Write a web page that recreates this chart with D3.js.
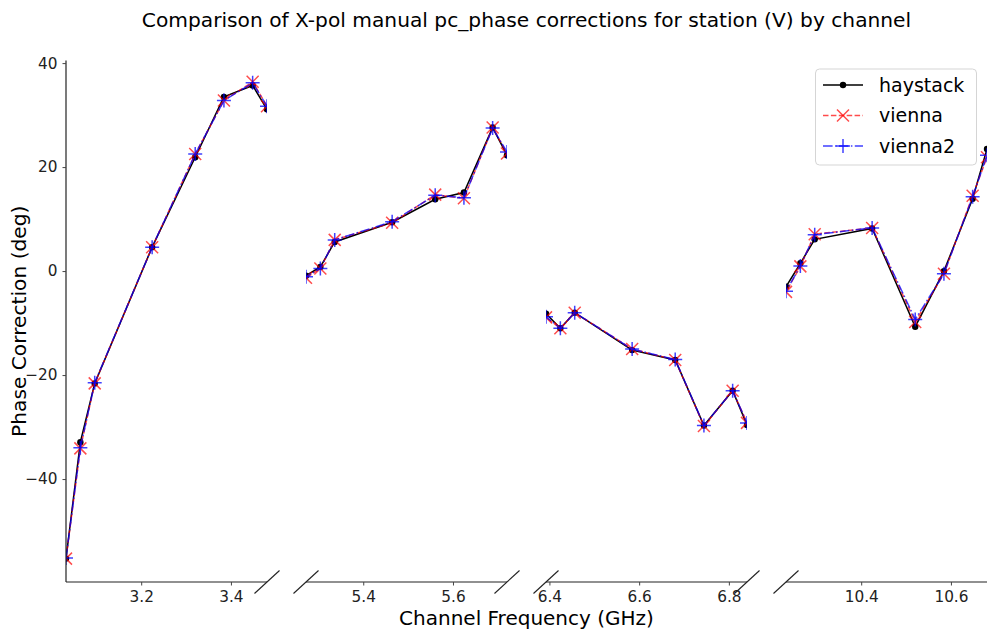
<!DOCTYPE html>
<html><head><meta charset="utf-8">
<script src="https://cdn.jsdelivr.net/npm/d3@7/dist/d3.min.js"></script>
<style>body{margin:0;background:#fff;} svg{display:block;} text{font-family:"DejaVu Sans",sans-serif;}</style>
</head><body>
<svg id="c" width="988" height="633"></svg>
<script>
// ---- data ----
const freqs = [3.0324,3.0644,3.0964,3.2244,3.3204,3.3844,3.4484,3.4804,
               5.2724,5.3044,5.3364,5.4644,5.5604,5.6244,5.6884,5.7204,
               6.3924,6.4244,6.4564,6.5844,6.6804,6.7444,6.8084,6.8404,
               10.2324,10.2644,10.2964,10.4244,10.5204,10.5844,10.6484,10.6804];
const haystack = [-55.3,-32.9,-21.6,4.6,21.9,33.5,35.7,31.1,
                  -0.9,0.8,5.6,9.4,13.8,15.1,27.6,22.3,
                  -8.2,-11.0,-8.0,-15.2,-17.1,-29.7,-23.0,-29.6,
                  -3.0,1.5,6.1,8.2,-10.7,0.0,13.9,23.5];
const vienna = [-55.3,-34.1,-21.6,4.6,22.5,32.8,36.4,31.7,
                -1.3,0.5,6.0,9.3,14.7,14.0,27.6,22.6,
                -8.9,-11.0,-8.0,-15.0,-17.1,-29.8,-23.0,-29.2,
                -4.0,0.9,7.1,8.3,-9.8,-0.5,14.5,21.9];
const vienna2 = [-55.2,-34.0,-21.5,4.6,22.5,32.8,36.2,31.7,
                 -1.1,0.5,6.0,9.5,14.6,14.1,27.5,22.9,
                 -8.8,-11.0,-8.0,-15.0,-17.0,-29.7,-23.0,-29.2,
                 -3.9,1.0,7.0,8.3,-9.3,-0.5,14.3,22.3];
const panelRanges = [[3.0324,3.4804],[5.2724,5.7204],[6.3924,6.8404],[10.2324,10.6804]];
const panelTicks = [[3.2,3.4],[5.4,5.6],[6.4,6.6,6.8],[10.4,10.6]];
const yTicks = [-40,-20,0,20,40];
const yDomain = [-59.8,40.5];
const seriesNames = ["haystack","vienna","vienna2"];

// ---- layout ----
const svg = d3.select("#c");
const yTop = 60.5, yBot = 582, left0 = 66, panelW = 201, gap = 39;
const y = d3.scaleLinear().domain(yDomain).range([yBot, yTop]);
const fmt = d => (d<0? "\u2212"+Math.abs(d) : String(d));

const series = [
  {name:seriesNames[0], vals:haystack, color:"#000", dash:null, marker:"o", op:1},
  {name:seriesNames[1], vals:vienna, color:"#ff0000", dash:"5.5,2.4", marker:"x", op:0.7},
  {name:seriesNames[2], vals:vienna2, color:"#0000ff", dash:"9.6,2.4,1.5,2.4", marker:"+", op:0.75}
];

function drawMarker(g, type, cx, cy, color, op){
  if(type==="o"){
    g.append("circle").attr("cx",cx).attr("cy",cy).attr("r",3.2).attr("fill",color).attr("opacity",op);
  } else if(type==="x"){
    const s=6;
    g.append("path").attr("d",`M${cx-s},${cy-s}L${cx+s},${cy+s}M${cx-s},${cy+s}L${cx+s},${cy-s}`)
      .attr("stroke",color).attr("stroke-width",1.5).attr("fill","none").attr("opacity",op);
  } else {
    const s=7;
    g.append("path").attr("d",`M${cx-s},${cy}L${cx+s},${cy}M${cx},${cy-s}L${cx},${cy+s}`)
      .attr("stroke",color).attr("stroke-width",1.5).attr("fill","none").attr("opacity",op);
  }
}

const defs = svg.append("defs");
panelRanges.forEach((r,i)=>{
  const x0 = left0 + i*(panelW+gap);
  const x = d3.scaleLinear().domain(r).range([x0, x0+panelW]);
  defs.append("clipPath").attr("id","clip"+i).append("rect")
    .attr("x",x0).attr("y",yTop).attr("width",panelW).attr("height",yBot-yTop);
  const g = svg.append("g").attr("clip-path",`url(#clip${i})`);
  const line = d3.line().x((d,j)=>x(freqs[j])).y(d=>y(d));
  series.forEach(s=>{
    g.append("path").datum(s.vals).attr("d",line).attr("fill","none")
      .attr("stroke",s.color).attr("stroke-width",1.5).attr("opacity",s.op)
      .attr("stroke-dasharray",s.dash);
    s.vals.forEach((v,j)=>drawMarker(g,s.marker,x(freqs[j]),y(v),s.color,s.op));
  });
  // bottom axis
  const ax = svg.append("g").attr("transform",`translate(0,${yBot})`)
    .call(d3.axisBottom(x).tickValues(panelTicks[i]).tickSize(3.5).tickPadding(6).tickFormat(d3.format(".1f")));
  ax.select(".domain").attr("stroke","#222").attr("stroke-width",1.2).attr("d",`M${x0},0H${x0+panelW}`);
  ax.selectAll(".tick line").attr("stroke","#444");
  ax.selectAll("text").attr("font-size",15.3).attr("fill","#222").attr("font-family","DejaVu Sans");
  // break marks
  const mark = cx => svg.append("line").attr("x1",cx-12.5).attr("y1",yBot+11.5)
      .attr("x2",cx+12.5).attr("y2",yBot-11.5).attr("stroke","#222").attr("stroke-width",1.1);
  if(i>0) mark(x0);
  if(i<panelRanges.length-1) mark(x0+panelW);
  if(i===0){
    const ay = svg.append("g").attr("transform",`translate(${x0},0)`)
      .call(d3.axisLeft(y).tickValues(yTicks).tickSize(3.5).tickPadding(5).tickFormat(fmt));
    ay.select(".domain").attr("stroke","#222").attr("stroke-width",1.2).attr("d",`M0,${yTop}V${yBot}`);
    ay.selectAll(".tick line").attr("stroke","#444");
    ay.selectAll("text").attr("font-size",15.3).attr("fill","#222").attr("font-family","DejaVu Sans");
  }
});

// titles
svg.append("text").attr("x",526.5).attr("y",26.5).attr("text-anchor","middle").attr("font-size",20.2)
  .text("Comparison of X-pol manual pc_phase corrections for station (V) by channel");
svg.append("text").attr("x",526.5).attr("y",625).attr("text-anchor","middle").attr("font-size",20)
  .text("Channel Frequency (GHz)");
svg.append("text").attr("transform",`translate(26,${(yTop+yBot)/2}) rotate(-90)`).attr("text-anchor","middle").attr("font-size",20.2)
  .text("Phase Correction (deg)");

// legend
const lg = svg.append("g");
lg.append("rect").attr("x",815.5).attr("y",69).attr("width",161).attr("height",96).attr("rx",4)
  .attr("fill","#fff").attr("fill-opacity",0.8).attr("stroke","#d5d5d5");
series.forEach((s,k)=>{
  const yy = 85 + k*30.5;
  lg.append("line").attr("x1",823).attr("x2",863).attr("y1",yy).attr("y2",yy)
    .attr("stroke",s.color).attr("stroke-width",1.5).attr("stroke-dasharray",s.dash).attr("opacity",s.op);
  drawMarker(lg,s.marker,843,yy,s.color,s.op);
  lg.append("text").attr("x",879).attr("y",yy+6.5).attr("font-size",19).attr("fill","#000").text(s.name);
});
</script>
</body></html>
